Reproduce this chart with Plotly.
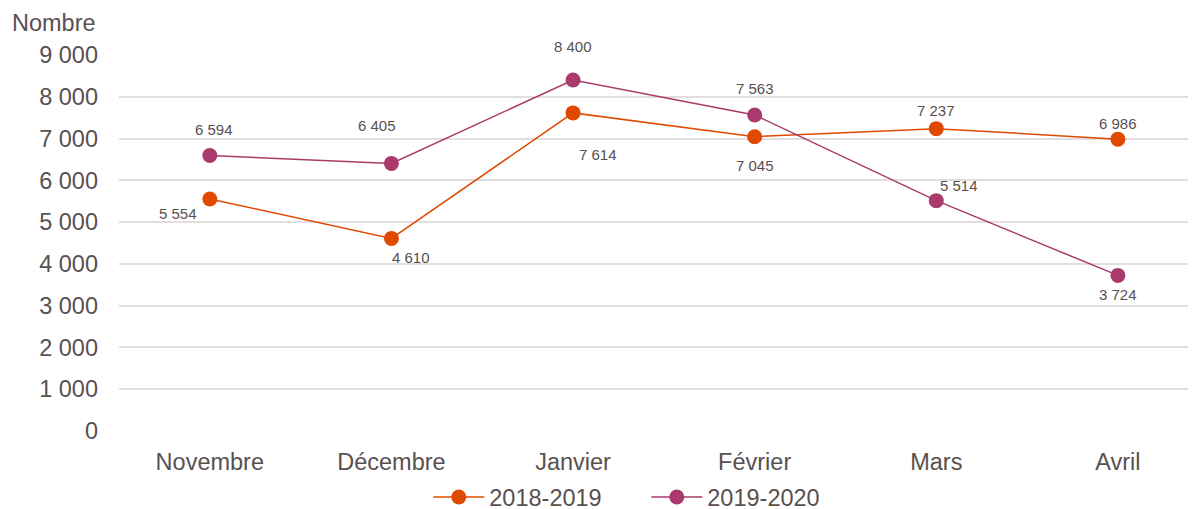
import plotly.graph_objects as go

months = ["Novembre", "Décembre", "Janvier", "Février", "Mars", "Avril"]
s2018 = [5554, 4610, 7614, 7045, 7237, 6986]
s2020 = [6594, 6405, 8400, 7563, 5514, 3724]
names = ["2018-2019", "2019-2020"]
yticks = [0, 1000, 2000, 3000, 4000, 5000, 6000, 7000, 8000, 9000]
ytext = ["0", "1 000", "2 000", "3 000", "4 000", "5 000", "6 000", "7 000", "8 000", "9 000"]

c1 = "#E04A00"
c2 = "#A93A6B"
txt = "#595050"
font = "Liberation Sans, Arial, sans-serif"
fs = 23.5

fig = go.Figure()
for vals, name, col in [(s2018, names[0], c1), (s2020, names[1], c2)]:
    fig.add_trace(go.Scatter(x=list(range(len(months))), y=vals, name=name, mode="lines+markers",
                             line=dict(color=col, width=1.5),
                             marker=dict(color=col, size=15, line=dict(width=0)),
                             cliponaxis=False))

def fmt(v):
    return f"{v:,}".replace(",", " ")

off1 = [(-32, -15), (20, -19), (25, -42), (0, -29), (0, 18), (0, 16)]
off2 = [(4, 26), (-14, 38), (0, 34), (0, 27), (23, 15), (0, -19)]
for vals, offs in [(s2018, off1), (s2020, off2)]:
    for i, (v, (dx, dy)) in enumerate(zip(vals, offs)):
        fig.add_annotation(x=i, y=v, text=fmt(v), showarrow=False, xshift=dx, yshift=dy,
                           font=dict(family=font, size=15, color=txt))

fig.add_annotation(xref="paper", yref="paper", x=-0.1012, y=1.0, yshift=47, xanchor="left",
                   text="Nombre", showarrow=False, font=dict(family=font, size=fs, color=txt))

fig.update_layout(
    width=1196, height=509, margin=dict(l=111, r=8, t=47, b=86, autoexpand=False),
    paper_bgcolor="white", plot_bgcolor="white",
    font=dict(family=font, size=fs, color=txt),
    showlegend=True,
    legend=dict(orientation="h", x=0.4896, xanchor="center", y=-0.176, yanchor="middle",
                itemwidth=51, entrywidth=152,
                font=dict(family=font, size=fs, color=txt)),
    xaxis=dict(tickmode="array", tickvals=list(range(len(months))), ticktext=months,
               range=[-0.5, 5.43], showgrid=False, zeroline=False, showline=False,
               automargin=False, ticklabelstandoff=14,
               tickfont=dict(size=fs, color=txt), ticks=""),
    yaxis=dict(range=[0, 9000], tickvals=yticks, ticktext=ytext, showgrid=True,
               gridcolor="#E3DEDE", gridwidth=1.5, zeroline=False, showline=False,
               automargin=False,
               tickfont=dict(size=fs, color=txt), ticks="", ticklabelstandoff=20),
)

fig.write_html("out.html")
